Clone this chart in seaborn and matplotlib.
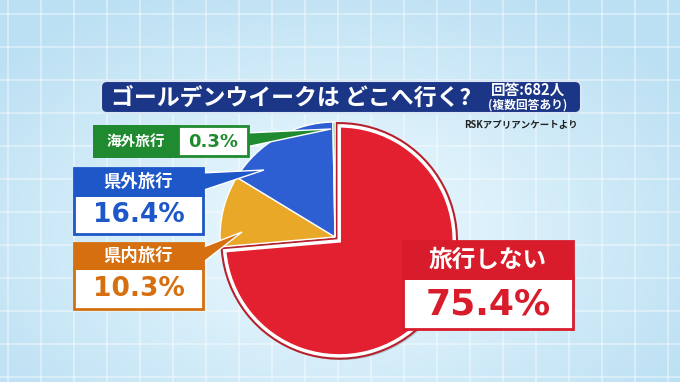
import numpy as np
import pandas as pd
import matplotlib
matplotlib.use("Agg")
import matplotlib.pyplot as plt
import matplotlib.patches as mpatches
import matplotlib.patheffects as pe
import seaborn as sns

# データ (複数回答あり、回答:682人)
categories = ['旅行しない', '県内旅行', '県外旅行', '海外旅行']
shares = [75.4, 10.3, 16.4, 0.3]
value_labels = ['75.4%', '10.3%', '16.4%', '0.3%']

title = 'ゴールデンウイークは どこへ行く?'
respondents = '回答:682人'
note = '(複数回答あり)'
source = 'RSKアプリアンケートより'

sns.set_theme(style='white')
plt.rcParams['font.family'] = ['Noto Sans CJK JP', 'DejaVu Sans']
plt.rcParams['font.weight'] = 'bold'

pie_colors = ['#e3202f', '#eaa828', '#2d5fd3', '#31a83c']
box_colors = {'旅行しない': '#d81c2b', '県内旅行': '#d56f0f',
              '県外旅行': '#1d57c8', '海外旅行': '#1f8a2f'}

W, H = 680, 382
fig = plt.figure(figsize=(W / 100, H / 100), dpi=100)

# 背景 (淡い水色のグラデーション + 格子)
bg = fig.add_axes([0, 0, 1, 1], zorder=0)
yy, xx = np.mgrid[0:H, 0:W]
r = np.sqrt(((xx - 330) / 420) ** 2 + ((yy - 230) / 260) ** 2)
r = np.clip(r, 0, 1)
c0 = np.array([0.94, 0.985, 1.0])
c1 = np.array([0.74, 0.88, 0.955])
img = c0[None, None, :] * (1 - r[..., None]) + c1[None, None, :] * r[..., None]
bg.imshow(img, extent=(0, W, H, 0), aspect='auto')
for gx in np.arange(8, W, 33):
    bg.axvline(gx, color='white', lw=1.2, alpha=0.45)
for gy in np.arange(14, H, 33):
    bg.axhline(gy, color='white', lw=1.2, alpha=0.45)
bg.set_xlim(0, W)
bg.set_ylim(H, 0)
bg.axis('off')

# 円グラフ
cx, cy, rad = 335, 237, 115
half = 130
ax_pie = fig.add_axes([(cx - half) / W, (H - cy - half) / H, 2 * half / W, 2 * half / H], zorder=1)
wedges, _ = ax_pie.pie(shares, colors=pie_colors, startangle=90, counterclock=False,
                       explode=[0.05, 0, 0, 0], normalize=True,
                       wedgeprops=dict(edgecolor='white', linewidth=1))
wedges[0].set_linewidth(2.5)
wedges[0].set_path_effects([pe.SimplePatchShadow(offset=(2, -3), shadow_rgbFace='#6a7f8c', alpha=0.35),
                            pe.Stroke(linewidth=5.5, foreground='#b5222e'), pe.Normal()])
lim = half / rad
ax_pie.set_xlim(-lim, lim)
ax_pie.set_ylim(-lim, lim)
ax_pie.set_aspect('equal')
ax_pie.axis('off')

# 注釈用 (ピクセル座標)
ax = fig.add_axes([0, 0, 1, 1], zorder=2)
ax.set_xlim(0, W)
ax.set_ylim(H, 0)
ax.axis('off')
ax.patch.set_alpha(0)

# タイトル帯
banner = mpatches.FancyBboxPatch((101, 81), 480, 32, boxstyle='round,pad=0,rounding_size=6',
                                 facecolor='#1b3686', edgecolor='#d8e6f5', lw=1.5)
ax.add_patch(banner)
ax.text(111, 98, title, color='white', fontsize=16.5, fontweight='bold', va='center', ha='left')
ax.text(528, 90, respondents, color='white', fontsize=10.5, fontweight='bold', va='center', ha='center')
ax.text(528, 105, note, color='white', fontsize=8.5, fontweight='bold', va='center', ha='center')
ax.text(578, 125, source, color='#222222', fontsize=6.8, fontweight='bold', va='center', ha='right')


def pointer(pts, color):
    ax.add_patch(mpatches.Polygon(pts, closed=True, facecolor=color, edgecolor='white', lw=1))


def stacked_box(x0, x1, y0, ym, y1, cat, val, head_fs, val_fs):
    col = box_colors[cat]
    ax.add_patch(mpatches.Rectangle((x0, ym), x1 - x0, y1 - ym, facecolor='white', edgecolor=col, lw=2))
    ax.add_patch(mpatches.Rectangle((x0, y0), x1 - x0, ym - y0, facecolor=col, edgecolor=col, lw=2))
    ax.text((x0 + x1) / 2, (y0 + ym) / 2, cat, color='white', fontsize=head_fs,
            fontweight='bold', ha='center', va='center')
    ax.text((x0 + x1) / 2, (ym + y1) / 2 + 1, val, color=col, fontsize=val_fs,
            fontweight='bold', ha='center', va='center', family='DejaVu Sans')


# 海外旅行 (横並び)
col = box_colors['海外旅行']
pointer([(246, 133), (246, 147), (331, 129)], col)
ax.add_patch(mpatches.Rectangle((94, 126), 154, 30, facecolor='white', edgecolor=col, lw=2))
ax.add_patch(mpatches.Rectangle((94, 126), 84, 30, facecolor=col, edgecolor=col, lw=2))
ax.text(136, 141, '海外旅行', color='white', fontsize=10.5, fontweight='bold', ha='center', va='center')
ax.text(213, 142, value_labels[3], color=col, fontsize=13, fontweight='bold', ha='center', va='center',
        family='DejaVu Sans')

# 県外旅行
pointer([(201, 173), (201, 191), (264, 170)], box_colors['県外旅行'])
stacked_box(74, 203, 168, 195, 234, '県外旅行', value_labels[2], 12.5, 19)

# 県内旅行
pointer([(201, 248), (201, 264), (242, 232)], box_colors['県内旅行'])
stacked_box(74, 203, 243, 268, 309, '県内旅行', value_labels[1], 12.5, 19)

# 旅行しない
stacked_box(403, 573, 241, 278, 329, '旅行しない', value_labels[0], 17, 26)

fig.savefig('out.png', dpi=100)
